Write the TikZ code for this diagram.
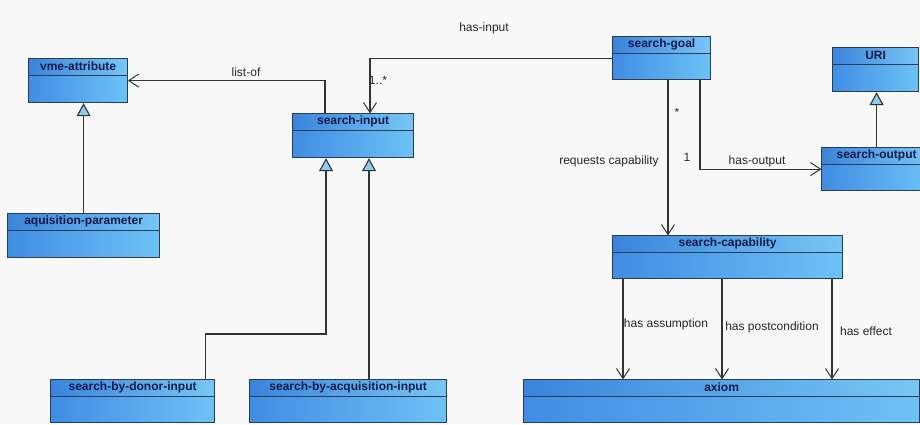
\documentclass[tikz,border=0pt]{standalone}
\usepackage{fontspec}
\setmainfont{Liberation Sans}
\usetikzlibrary{arrows.meta}
\definecolor{bg}{HTML}{F8F8F8}
\definecolor{border}{HTML}{2A3D58}
\definecolor{hdL}{HTML}{3A84DB}
\definecolor{hdR}{HTML}{78C6F4}
\definecolor{bdL}{HTML}{408DE4}
\definecolor{bdR}{HTML}{6CC2F5}
\definecolor{ttlc}{HTML}{141A4A}
\definecolor{linec}{HTML}{333333}
\definecolor{tric}{HTML}{8CCBF0}
\tikzset{
  cls/.style={draw=border, line width=1.2pt, left color=bdL, right color=bdR,
    inner sep=0pt, anchor=north west, rectangle,
    path picture={
      \fill[left color=hdL, right color=hdR] (path picture bounding box.north west) rectangle ([yshift=-17pt]path picture bounding box.north east);
      \draw[border, line width=1.1pt] ([yshift=-17pt]path picture bounding box.north west) -- ([yshift=-17pt]path picture bounding box.north east);
    }},
  ttl/.style={font=\fontsize{12}{13}\selectfont\bfseries, text=ttlc, inner sep=0pt},
  lbl/.style={font=\fontsize{12}{13}\selectfont, text=black!85, inner sep=0pt},
  assoc/.style={draw=linec, line width=1.1pt, -{Straight Barb[length=10pt, width=13pt, line width=1pt, line join=round]}},
  gen/.style={draw=linec, line width=1.1pt, -{Triangle[length=13pt, width=14pt, fill=tric, line width=1.1pt]}},
}
\begin{document}
\begin{tikzpicture}[x=1pt, y=-1pt]
\fill[bg] (0,0) rectangle (920,424);
\clip (0,0) rectangle (920,424);
% classes
\node[cls, minimum width=99pt, minimum height=44pt] (vme) at (28,58) {};
\node[ttl] (vme-t) at ([yshift=-8.5pt]vme.north) {vme-attribute};
\node[cls, minimum width=152pt, minimum height=44pt] (par) at (7,213) {};
\node[ttl] (par-t) at ([yshift=-8.5pt]par.north) {aquisition-parameter};
\node[cls, minimum width=121pt, minimum height=44pt] (si) at (292,113) {};
\node[ttl] (si-t) at ([yshift=-8.5pt]si.north) {search-input};
\node[cls, minimum width=98pt, minimum height=43pt] (goal) at (612,36) {};
\node[ttl] (goal-t) at ([yshift=-8.5pt]goal.north) {search-goal};
\node[cls, minimum width=86pt, minimum height=44pt] (uri) at (832,47) {};
\node[ttl] (uri-t) at ([yshift=-8.5pt]uri.north) {URI};
\node[cls, minimum width=110pt, minimum height=43pt] (out) at (821,147) {};
\node[ttl] (out-t) at ([yshift=-8.5pt]out.north) {search-output};
\node[cls, minimum width=230pt, minimum height=43pt] (cap) at (612,235) {};
\node[ttl] (cap-t) at ([yshift=-8.5pt]cap.north) {search-capability};
\node[cls, minimum width=396pt, minimum height=43pt] (ax) at (523,379) {};
\node[ttl] (ax-t) at ([yshift=-8.5pt]ax.north) {axiom};
\node[cls, minimum width=164pt, minimum height=43pt] (don) at (50,379) {};
\node[ttl] (don-t) at ([yshift=-8.5pt]don.north) {search-by-donor-input};
\node[cls, minimum width=197pt, minimum height=43pt] (acq) at (249,379) {};
\node[ttl] (acq-t) at ([yshift=-8.5pt]acq.north) {search-by-acquisition-input};
% connectors
\draw[assoc] ([xshift=33pt]si.north west) |- (vme.east);
\draw[assoc] (goal.west) -| ([xshift=78pt]si.north west);
\draw[assoc] ([xshift=56pt]goal.south west) -- ([xshift=56pt]cap.north west);
\draw[assoc] ([xshift=88pt]goal.south west) |- (out.west);
\draw[gen] (par.north) -- (par.north |- vme.south);
\draw[gen] (out.north) -- (out.north |- uri.south);
\draw[gen] ([xshift=-10pt]don.north east) -- ++(0,-45) -| ([xshift=34pt]si.south west);
\draw[gen] ([xshift=120pt]acq.north west) -- ([xshift=77pt]si.south west);
\draw[assoc] ([xshift=11pt]cap.south west) -- ([xshift=100pt]ax.north west);
\draw[assoc] ([xshift=110pt]cap.south west) -- ([xshift=199pt]ax.north west);
\draw[assoc] ([xshift=220pt]cap.south west) -- ([xshift=309pt]ax.north west);
% labels
\node[lbl] (l-list) at (246,72) {list-of};
\node[lbl] (l-in) at (484,28) {has-input};
\node[lbl] (l-m1) at (378,80) {1..*};
\node[lbl] (l-m2) at (677,112) {*};
\node[lbl] (l-m3) at (687,157) {1};
\node[lbl] (l-out) at (757,161) {has-output};
\node[lbl] (l-req) at (609,161) {requests capability};
\node[lbl] (l-ass) at (666,324) {has assumption};
\node[lbl] (l-post) at (772,327) {has postcondition};
\node[lbl] (l-eff) at (866,331) {has effect};
\end{tikzpicture}
\end{document}
